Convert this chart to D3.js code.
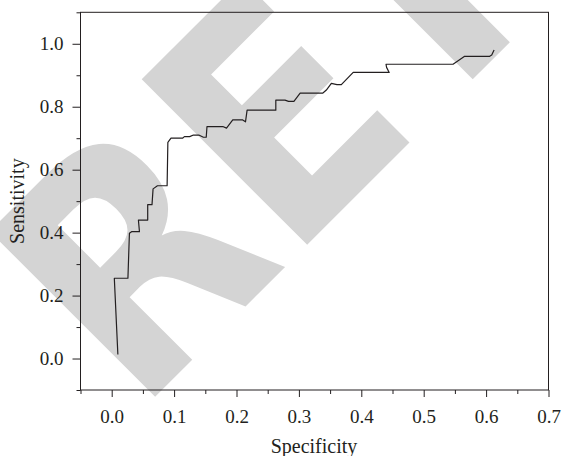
<!DOCTYPE html>
<html>
<head>
<meta charset="utf-8">
<script src="https://cdn.jsdelivr.net/npm/d3@7/dist/d3.min.js"></script>
<style>
  html, body { margin: 0; padding: 0; background: #fff; }
  svg { display: block; }
</style>
</head>
<body>
<svg id="chart" width="563" height="456"></svg>
<script>
// ---- data ----
const specificity = [0.0099, 0.0042, 0.026, 0.0284, 0.0318, 0.0445, 0.0428, 0.0577, 0.0577, 0.0646,
  0.0663, 0.0733, 0.0888, 0.090, 0.095, 0.1135, 0.1165, 0.125, 0.131, 0.1395,
  0.147, 0.1515, 0.1527, 0.178, 0.184, 0.194, 0.210, 0.2144, 0.217, 0.263,
  0.263, 0.2777, 0.2834, 0.292, 0.302, 0.338, 0.344, 0.352, 0.361, 0.368,
  0.387, 0.4447, 0.4405, 0.4396, 0.547, 0.5656, 0.6058, 0.609, 0.6128];
const sensitivity = [0.0127, 0.255, 0.255, 0.398, 0.403, 0.403, 0.440, 0.440, 0.489, 0.489,
  0.539, 0.549, 0.549, 0.687, 0.700, 0.700, 0.705, 0.705, 0.710, 0.710,
  0.703, 0.703, 0.737, 0.737, 0.732, 0.758, 0.758, 0.752, 0.789, 0.789,
  0.821, 0.821, 0.817, 0.817, 0.843, 0.843, 0.853, 0.874, 0.870, 0.870,
  0.909, 0.909, 0.925, 0.935, 0.935, 0.960, 0.960, 0.964, 0.980];
const xMajorTicks = [0.0, 0.1, 0.2, 0.3, 0.4, 0.5, 0.6, 0.7];
const xMinorTicks = [-0.05, 0.05, 0.15, 0.25, 0.35, 0.45, 0.55, 0.65];
const yMajorTicks = [0.0, 0.2, 0.4, 0.6, 0.8, 1.0];
const yMinorTicks = [-0.1, 0.1, 0.3, 0.5, 0.7, 0.9, 1.1];
const xTitle = "Specificity";
const yTitle = "Sensitivity";
const watermark = "RETRACTED";

// ---- layout ----
const svg = d3.select("#chart");
const pLeft = 80.5, pRight = 548.5, pTop = 12.3, pBottom = 390;
const x = d3.scaleLinear().domain([-0.05, 0.7]).range([pLeft, pRight]);
const y = d3.scaleLinear().domain([-0.1, 1.1]).range([pBottom, pTop]);
const serif = "'Liberation Serif', 'Times New Roman', serif";
const ink = "#231f20";

// watermark (clipped to the picture, as in the reference)
svg.append("defs").append("clipPath").attr("id", "page")
  .append("rect").attr("x", 0).attr("y", 0).attr("width", 563).attr("height", 456);
svg.append("g").attr("clip-path", "url(#page)")
  .append("text")
  .attr("transform", "translate(137,415) rotate(-45) scale(0.87,1)")
  .attr("font-family", "'DejaVu Sans', sans-serif")
  .attr("font-weight", "bold")
  .attr("font-size", 321)
  .attr("fill", "#d4d4d4")
  .text(watermark);

// x axis
const xAxisMajor = d3.axisBottom(x).tickValues(xMajorTicks).tickSize(7).tickPadding(13)
  .tickFormat(d3.format(".1f"));
const gx = svg.append("g").attr("transform", `translate(0,${pBottom})`).call(xAxisMajor);
const gxm = svg.append("g").attr("transform", `translate(0,${pBottom})`)
  .call(d3.axisBottom(x).tickValues(xMinorTicks).tickSize(4).tickFormat(""));

// y axis
const yAxisMajor = d3.axisLeft(y).tickValues(yMajorTicks).tickSize(8).tickPadding(9)
  .tickFormat(d3.format(".1f"));
const gy = svg.append("g").attr("transform", `translate(${pLeft},0)`).call(yAxisMajor);
const gym = svg.append("g").attr("transform", `translate(${pLeft},0)`)
  .call(d3.axisLeft(y).tickValues(yMinorTicks).tickSize(4).tickFormat(""));

[gx, gxm, gy, gym].forEach(g => {
  g.select(".domain").remove();
  g.selectAll(".tick line").attr("stroke", ink).attr("stroke-width", 1);
  g.selectAll(".tick text").attr("fill", ink).attr("font-family", serif).attr("font-size", 19);
});

// frame
svg.append("rect")
  .attr("x", pLeft).attr("y", pTop)
  .attr("width", pRight - pLeft).attr("height", pBottom - pTop)
  .attr("fill", "none").attr("stroke", ink).attr("stroke-width", 1);

// curve
const pts = specificity.map((s, i) => [s, sensitivity[i]]);
svg.append("path")
  .datum(pts)
  .attr("fill", "none")
  .attr("stroke", ink)
  .attr("stroke-width", 1.2)
  .attr("stroke-linejoin", "round")
  .attr("d", d3.line().x(d => x(d[0])).y(d => y(d[1])));

// titles
svg.append("text")
  .attr("x", (pLeft + pRight) / 2 - 0.5).attr("y", 452.5)
  .attr("text-anchor", "middle")
  .attr("font-family", serif).attr("font-size", 20).attr("fill", ink)
  .text(xTitle);
svg.append("text")
  .attr("transform", `translate(23.5,${y(0.5)}) rotate(-90)`)
  .attr("text-anchor", "middle")
  .attr("font-family", serif).attr("font-size", 20).attr("fill", ink)
  .text(yTitle);
</script>
</body>
</html>
